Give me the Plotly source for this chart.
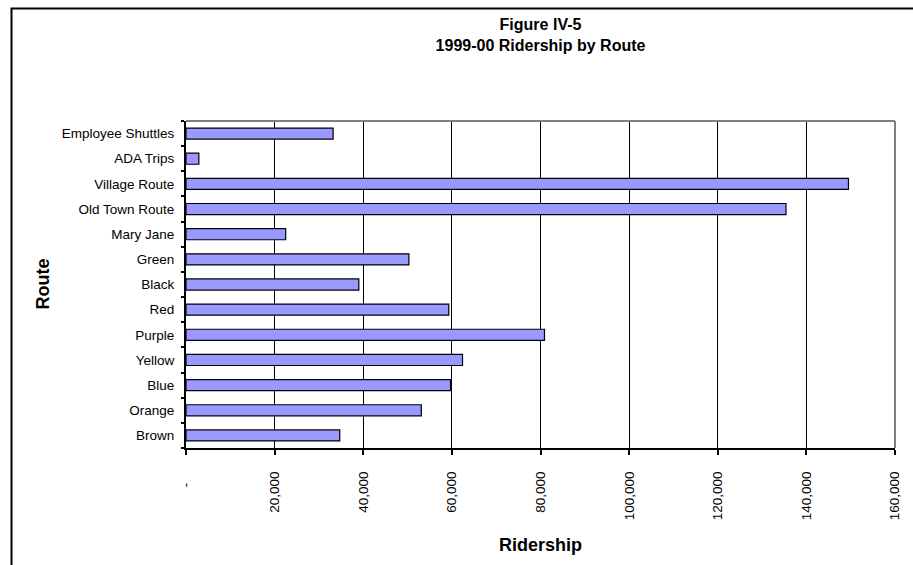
import plotly.graph_objects as go

# Data (bottom to top, as drawn)
routes = ["Brown", "Orange", "Blue", "Yellow", "Purple", "Red", "Black", "Green",
          "Mary Jane", "Old Town Route", "Village Route", "ADA Trips", "Employee Shuttles"]
ridership = [34700, 53100, 59700, 62400, 80900, 59300, 39000, 50300,
             22500, 135400, 149500, 2900, 33200]

x_tickvals = [0, 20000, 40000, 60000, 80000, 100000, 120000, 140000, 160000]
x_ticktext = ["-\u00a0\u00a0\u00a0", "20,000", "40,000", "60,000", "80,000",
              "100,000", "120,000", "140,000", "160,000"]

FONT = "Liberation Sans, Arial, sans-serif"

W, H = 913, 565
L, R, T, B = 186, 18, 121, 117
pw, ph = W - L - R, H - T - B


def px_x(p):
    return (p - L) / pw


def px_y(p):
    return (H - B - p) / ph


fig = go.Figure()
fig.add_trace(go.Bar(
    y=routes, x=ridership, orientation="h",
    marker=dict(color="#9999FF", line=dict(color="black", width=1.2)),
    hoverinfo="x+y",
))

fig.update_layout(
    width=W, height=H,
    margin=dict(l=L, r=R, t=T, b=B, pad=0),
    paper_bgcolor="white", plot_bgcolor="white",
    bargap=0.56,
    showlegend=False,
    font=dict(family=FONT, color="black", size=13),
    title=dict(
        text="<b>Figure IV-5</b><br><b>1999-00 Ridership by Route</b>",
        x=540.5 / W, xanchor="center",
        y=1 - 30 / H, yanchor="middle", yref="container",
        font=dict(family=FONT, size=16, color="black"),
    ),
    xaxis=dict(
        range=[0, 160000], tickmode="array", tickvals=x_tickvals, ticktext=x_ticktext,
        tickangle=-90, tickfont=dict(family=FONT, size=13.5, color="black"),
        showgrid=True, gridcolor="black", gridwidth=1,
        zeroline=False, showline=True, linecolor="black", linewidth=2,
        ticks="outside", ticklen=5, tickcolor="black", tickwidth=2,
        ticklabelstandoff=11, fixedrange=True,
    ),
    yaxis=dict(
        type="category", categoryorder="array", categoryarray=routes,
        tickfont=dict(family=FONT, size=13.5, color="black"),
        showgrid=False, zeroline=False, showline=True, linecolor="black", linewidth=2,
        ticks="outside", tickson="boundaries", ticklen=3, tickcolor="black", tickwidth=2,
        ticklabelstandoff=7, fixedrange=True,
    ),
    shapes=[
        # plot area gray top/right border
        dict(type="line", xref="paper", yref="paper", x0=0, x1=1, y0=1, y1=1,
             line=dict(color="#808080", width=2), layer="above"),
        dict(type="line", xref="paper", yref="paper", x0=1, x1=1, y0=0, y1=1,
             line=dict(color="#808080", width=2), layer="above"),
        # outer chart border (runs off the right and bottom edges)
        dict(type="rect", xref="paper", yref="paper",
             x0=px_x(11.5), x1=px_x(930), y0=px_y(580), y1=px_y(8.5),
             line=dict(color="black", width=2), layer="below"),
    ],
    annotations=[
        dict(text="<b>Ridership</b>", xref="paper", yref="paper", x=0.5, y=px_y(545),
             xanchor="center", yanchor="middle", showarrow=False,
             font=dict(family=FONT, size=18, color="black")),
        dict(text="<b>Route</b>", xref="paper", yref="paper", x=px_x(42), y=0.5,
             xanchor="center", yanchor="middle", showarrow=False, textangle=-90,
             font=dict(family=FONT, size=18, color="black")),
    ],
)

fig.write_html(
    "out.html",
    config={"displayModeBar": False},
    post_script="document.body.style.margin='0';document.body.style.overflow='hidden';",
)
